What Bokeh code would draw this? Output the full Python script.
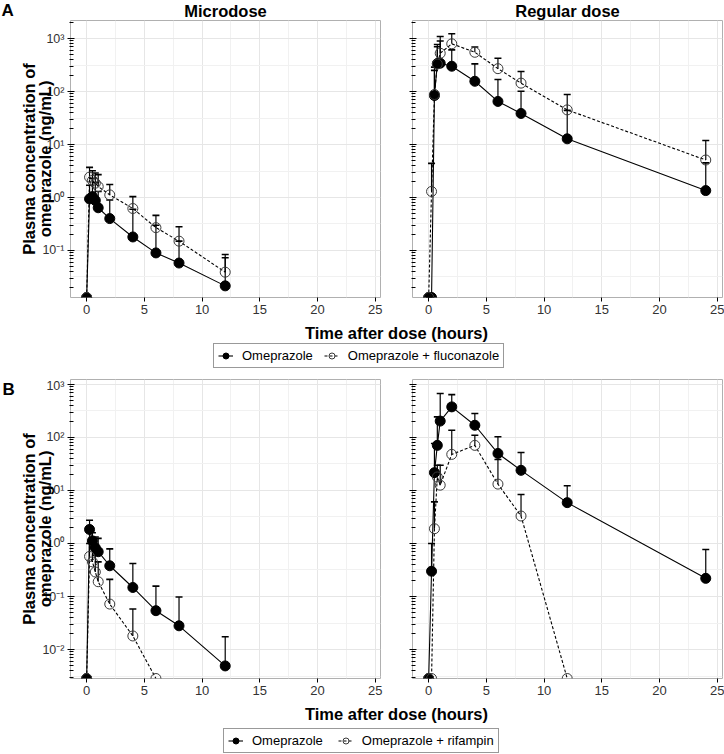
import numpy as np
from bokeh.plotting import figure
from bokeh.models import (FixedTicker, CustomJSTickFormatter, Label, Legend, LegendItem, Range1d)
from bokeh.layouts import column, row
from bokeh.embed import file_html
from bokeh.resources import INLINE

# ---------------- data ----------------
TIME_MICRO = [0, 0.25, 0.5, 0.75, 1, 2, 4, 6, 8, 12]
TIME_REG = [0, 0.25, 0.5, 0.75, 1, 2, 4, 6, 8, 12, 24]
TIME_MICRO_RIF = [0, 0.25, 0.5, 0.75, 1, 2, 4, 6]
TIME_REG_RIF = [0, 0.25, 0.5, 0.75, 1, 2, 4, 6, 8, 12]

# Panel A - microdose
A_MICRO_OME = [0, 0.94, 1.04, 0.88, 0.64, 0.40, 0.18, 0.090, 0.058, 0.0215]
A_MICRO_OME_UP = [0, 1.7, 2.3, 1.9, 1.3, 0.9, 0.6, 0.3, 0.15, 0.073]
A_MICRO_FLU = [0, 2.42, 2.1, 1.86, 1.61, 1.12, 0.62, 0.27, 0.15, 0.039]
A_MICRO_FLU_UP = [0, 3.7, 3.2, 2.9, 2.7, 1.76, 1.04, 0.46, 0.28, 0.084]
# Panel A - regular dose
A_REG_OME = [0, 0, 84, 337, 342, 300, 156, 65, 38.5, 12.8, 1.35]
A_REG_OME_UP = [0, 0, 250, 770, 900, 610, 332, 169, 101, 44, 4.5]
A_REG_FLU = [0, 1.3, 88, 330, 527, 795, 550, 270, 144, 45, 5.1]
A_REG_FLU_UP = [0, 4.4, 288, 700, 1090, 1230, 690, 425, 238, 88, 11.9]
# Panel B - microdose
B_MICRO_OME = [0, 1.84, 1.12, 0.83, 0.70, 0.38, 0.148, 0.054, 0.028, 0.0049]
B_MICRO_OME_UP = [0, 2.75, 1.6, 1.33, 1.25, 0.79, 0.42, 0.157, 0.098, 0.0174]
B_MICRO_RIF = [0, 0.57, 0.45, 0.29, 0.19, 0.072, 0.018, 0]
B_MICRO_RIF_UP = [0, 1.0, 0.85, 0.6, 0.45, 0.21, 0.058, 0]
# Panel B - regular dose
B_REG_OME = [0, 0.30, 21.7, 71, 204, 378, 170, 50, 24, 5.9, 0.22]
B_REG_OME_UP = [0, 1.0, 77, 245, 675, 645, 284, 103, 52, 12.3, 0.77]
B_REG_RIF = [0, 0, 1.9, 18, 12.6, 48, 71, 13.2, 3.3, 0]
B_REG_RIF_UP = [0, 0, 6.1, 30, 30, 137, 110, 38.5, 8.4, 0]

X_TICKS = [0, 5, 10, 15, 20, 25]
Y_DECADES = [1e-2, 1e-1, 1e0, 1e1, 1e2, 1e3]
LEGEND_A = ["Omeprazole", "Omeprazole + fluconazole"]
LEGEND_B = ["Omeprazole", "Omeprazole + rifampin"]
TITLES = ["Microdose", "Regular dose"]
PANEL_LETTERS = ["A", "B"]
Y_LABEL = "Plasma concentration of\nomeprazole (ng/mL)"
X_LABEL = "Time after dose (hours)"

# ---------------- styling / layout ----------------
FONT = "Liberation Sans"
X_RANGE = (-1.4, 25.45)
YLIM_A = (10 ** -1.887, 10 ** 3.34)
YLIM_B = (10 ** -2.547, 10 ** 3.094)
FRAME_W = 310
FRAME_L = 70          # page x of left frame
GAP_L, GAP_R = 16, 16
TOTAL_W = FRAME_L + 2 * FRAME_W + GAP_L + GAP_R + 2
LETTER_W = 15

SUP = {"-": "\u207b", "0": "\u2070", "1": "\u00b9", "2": "\u00b2", "3": "\u00b3",
       "4": "\u2074", "5": "\u2075", "6": "\u2076", "7": "\u2077", "8": "\u2078", "9": "\u2079"}

minor_y = [k * 10.0 ** e for e in range(-3, 4) for k in range(2, 10)]
half_dec = [10 ** (e + 0.5) for e in range(-3, 4)]


def add_text(p, x, y, text, size, bold=False, align="center", baseline="middle"):
    p.add_layout(Label(x=x, y=y, text=text,
                       text_font=FONT, text_font_size=f"{size}px",
                       text_font_style="bold" if bold else "normal",
                       text_align=align, text_baseline=baseline, text_color="black"))


def blank(width, height):
    f = figure(width=width, height=height, title=None,
               x_range=Range1d(0, width), y_range=Range1d(0, height),
               x_axis_type=None, y_axis_type=None,
               output_backend="svg", toolbar_location=None, min_border=0)
    f.outline_line_color = None
    f.grid.visible = False
    return f


def draw_series(p, t, mean, upper, ylo, dashed):
    t = np.asarray(t, float)
    m = np.asarray(mean, float)
    u = np.asarray(upper, float)
    yp = np.where(m > 0, m, ylo)
    p.line(t, yp, line_color="black", line_width=1.1, line_dash="3 2" if dashed else "solid")
    has = (m > 0) & (u > m)
    p.segment(t[has], yp[has], t[has], u[has], line_color="black", line_width=1.2)
    p.scatter(t[has], u[has], marker="dash", size=7, line_color="black", line_width=1.6)
    if dashed:
        p.scatter(t, yp, marker="circle", size=10, fill_color=None, line_color="#3a3a3a", line_width=1.0)
    else:
        p.scatter(t, yp, marker="circle", size=10, fill_color="black", line_color="black")


def panel(ylim, left_border, right_border, top_border, frame_h, series, labels):
    p = figure(width=left_border + FRAME_W + right_border, height=top_border + frame_h + 24,
               title=None, x_range=Range1d(*X_RANGE), y_range=Range1d(*ylim), y_axis_type="log",
               output_backend="svg", toolbar_location=None,
               min_border_left=left_border, min_border_right=right_border,
               min_border_top=top_border, min_border_bottom=24)
    p.outline_line_color = "#b0b0b0"
    p.outline_line_width = 1
    p.xaxis.ticker = FixedTicker(ticks=X_TICKS, minor_ticks=[])
    p.yaxis.ticker = FixedTicker(ticks=Y_DECADES, minor_ticks=minor_y)
    for ax in (p.xaxis[0], p.yaxis[0]):
        ax.axis_line_color = None
        ax.major_tick_line_color = "black"
        ax.minor_tick_line_color = "black"
        ax.major_label_text_font = FONT
        ax.major_label_text_font_size = "13px"
        ax.major_label_text_color = "#333333"
    p.yaxis.major_label_text_font_size = "12.5px"
    p.xaxis.major_tick_out = 4
    p.xaxis.major_tick_in = 0
    p.xaxis.minor_tick_line_color = None
    p.xaxis.major_label_standoff = 3
    p.yaxis.major_tick_out = 3
    p.yaxis.major_tick_in = 4
    p.yaxis.minor_tick_out = 1
    p.yaxis.minor_tick_in = 3
    p.yaxis.major_label_standoff = 3
    if labels:
        code = ("const e = Math.round(Math.log10(tick)); const s = " + str(SUP).replace("'", '"') +
                "; return '10' + String(e).split('').map(c => s[c]).join('');")
        p.yaxis.formatter = CustomJSTickFormatter(code=code)
        p.yaxis.axis_label = Y_LABEL
        p.yaxis.axis_label_text_font = FONT
        p.yaxis.axis_label_text_font_size = "16.5px"
        p.yaxis.axis_label_text_font_style = "bold"
        p.yaxis.axis_label_text_color = "black"
        p.yaxis.axis_label_text_line_height = 0.9
        p.yaxis.axis_label_standoff = -15
    else:
        p.yaxis.formatter = CustomJSTickFormatter(code="return '';")
        p.yaxis.major_label_standoff = 0
    p.xgrid.ticker = FixedTicker(ticks=X_TICKS, minor_ticks=[2.5, 7.5, 12.5, 17.5, 22.5])
    p.ygrid.ticker = FixedTicker(ticks=Y_DECADES, minor_ticks=half_dec)
    for g in (p.xgrid[0], p.ygrid[0]):
        g.grid_line_color = "#e6e6e6"
        g.grid_line_width = 1
        g.minor_grid_line_color = "#f1f1f1"
    for (t, m, u, d) in series:
        draw_series(p, t, m, u, ylim[0], d)
    return p


def footer(height, label_y, legend_x, legend_y, labels, spacing):
    f = blank(TOTAL_W, height)
    cx = FRAME_L + (2 * FRAME_W + GAP_L + GAP_R) / 2
    add_text(f, cx, label_y, X_LABEL, 16.5, bold=True)
    l1 = f.line([-50, -40], [-50, -40], line_color="black", line_width=1.1)
    s1 = f.scatter([-50], [-50], marker="circle", size=10, fill_color="black", line_color="black")
    l2 = f.line([-50, -40], [-50, -40], line_color="black", line_width=1.1, line_dash="3 2")
    s2 = f.scatter([-50], [-50], marker="circle", size=10, fill_color=None, line_color="#3a3a3a")
    leg = Legend(items=[LegendItem(label=labels[0], renderers=[l1, s1]),
                        LegendItem(label=labels[1], renderers=[l2, s2])],
                 orientation="horizontal", location=(legend_x, legend_y),
                 border_line_color="#333333", border_line_width=1, background_fill_alpha=1,
                 label_text_font=FONT, label_text_font_size="13px", label_text_color="black",
                 glyph_width=15, glyph_height=15, label_standoff=9, spacing=spacing,
                 padding=4, margin=0, label_height=15)
    f.add_layout(leg, "center")
    return f


# ----- top strip with panel letter A and column titles -----
strip = blank(TOTAL_W, 20)
add_text(strip, 1, 10, PANEL_LETTERS[0], 17, bold=True, align="left")
add_text(strip, FRAME_L + FRAME_W / 2, 10, TITLES[0], 16.5, bold=True)
add_text(strip, FRAME_L + FRAME_W + GAP_L + GAP_R + FRAME_W / 2, 10, TITLES[1], 16.5, bold=True)

# ----- section A -----
FA_H = 277
pa1 = panel(YLIM_A, FRAME_L, GAP_L, 0, FA_H,
            [(TIME_MICRO, A_MICRO_OME, A_MICRO_OME_UP, False),
             (TIME_MICRO, A_MICRO_FLU, A_MICRO_FLU_UP, True)], True)
pa2 = panel(YLIM_A, GAP_R, 2, 0, FA_H, [(TIME_REG, A_REG_OME, A_REG_OME_UP, False),
                                       (TIME_REG, A_REG_FLU, A_REG_FLU_UP, True)], False)
foot_a = footer(57, 45.5, 213, 10, LEGEND_A, 11)

# ----- section B -----
FB_H = 299
PB_TOP = 1
PB_HEIGHT = PB_TOP + FB_H + 24
letter_b = blank(LETTER_W, PB_HEIGHT)
add_text(letter_b, 2, PB_HEIGHT - 11, PANEL_LETTERS[1], 17, bold=True, align="left")
pb1 = panel(YLIM_B, FRAME_L - LETTER_W, GAP_L, PB_TOP, FB_H,
            [(TIME_MICRO, B_MICRO_OME, B_MICRO_OME_UP, False),
             (TIME_MICRO_RIF, B_MICRO_RIF, B_MICRO_RIF_UP, True)], True)
pb2 = panel(YLIM_B, GAP_R, 2, PB_TOP, FB_H, [(TIME_REG, B_REG_OME, B_REG_OME_UP, False),
                                             (TIME_REG_RIF, B_REG_RIF, B_REG_RIF_UP, True)], False)
foot_b = footer(52, 41, 223, 1, LEGEND_B, 15)

layout = column(strip, row(pa1, pa2), foot_a, row(letter_b, pb1, pb2), foot_b)
open("out.html", "w").write(file_html(layout, INLINE))
